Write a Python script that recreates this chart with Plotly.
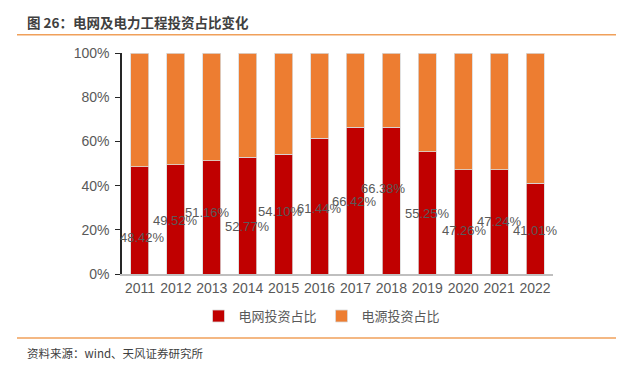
import plotly.graph_objects as go

years = ["2011", "2012", "2013", "2014", "2015", "2016", "2017", "2018", "2019", "2020", "2021", "2022"]
grid_share = [48.42, 49.52, 51.16, 52.77, 54.10, 61.44, 66.42, 66.38, 55.25, 47.26, 47.24, 41.01]
power_share = [round(100 - v, 2) for v in grid_share]
label_text = [f"{v:.2f}%" for v in grid_share]

# label placement (as in the source chart, labels were scattered)
label_y = [16.4, 24.2, 27.8, 21.7, 28.2, 29.5, 32.8, 38.5, 27.6, 19.9, 23.6, 19.9]
label_dx = [3, 0, -4, 0, -3, 0, -1, -8, 0, 1, 0, 0]

# page has an 8px body margin; lay out in reference-pixel coordinates, shifted
OFF = 8
W, H = 625 - OFF, 372 - OFF
L, R, T, B = 122 - OFF, 553 - OFF, 53.3 - OFF, 274 - OFF
pw, ph = R - L, B - T

def px(x):
    return (x - OFF - L) / pw

def py(y):
    return (B - (y - OFF)) / ph

font_cjk = "Noto Sans CJK SC, Liberation Sans, Arial, sans-serif"
font_num = "Liberation Sans, Arial, sans-serif"
gray = "#595959"

fig = go.Figure()
fig.add_bar(x=years, y=grid_share, name="电网投资占比", marker=dict(color="#C00000", line=dict(color="#d9d9d9", width=0.8)))
fig.add_bar(x=years, y=power_share, name="电源投资占比", marker=dict(color="#ED7D31", line=dict(color="#d9d9d9", width=0.8)))

annotations = []
for i, (t, ly, dx) in enumerate(zip(label_text, label_y, label_dx)):
    annotations.append(dict(x=i, y=ly, text=t, showarrow=False, xshift=dx,
                            font=dict(family=font_num, size=13, color=gray)))

annotations.append(dict(xref="paper", yref="paper", x=px(25), y=py(22.7), xanchor="left", yanchor="middle",
                        text="<b>图 26：电网及电力工程投资占比变化</b>", showarrow=False,
                        font=dict(family=font_cjk, size=13.5, color="#404040")))
annotations.append(dict(xref="paper", yref="paper", x=px(25), y=py(352.5), xanchor="left", yanchor="middle",
                        text="资料来源：wind、天风证券研究所", showarrow=False,
                        font=dict(family=font_cjk, size=11.5, color="#404040")))

shapes = [
    dict(type="line", xref="paper", yref="paper", x0=px(17), x1=px(616), y0=py(35), y1=py(35),
         line=dict(color="#F0A05A", width=1.5)),
    dict(type="line", xref="paper", yref="paper", x0=px(17), x1=px(616), y0=py(338), y1=py(338),
         line=dict(color="#F0A05A", width=1.5)),
]

fig.update_layout(
    barmode="stack",
    bargap=0.5,
    width=W, height=H,
    margin=dict(l=L, r=W - R, t=T, b=H - B, pad=0),
    paper_bgcolor="white", plot_bgcolor="white",
    showlegend=True,
    legend=dict(orientation="h", x=px(322), y=py(316), xanchor="center", yanchor="middle",
                font=dict(family=font_cjk, size=13, color=gray), itemwidth=30,
                traceorder="normal", itemclick=False),
    annotations=annotations,
    shapes=shapes,
    xaxis=dict(type="category", range=[-0.5, len(years) - 0.5], showline=True, linecolor="#bfbfbf",
               linewidth=2, ticks="", showgrid=False,
               tickfont=dict(family=font_num, size=14, color=gray)),
    yaxis=dict(range=[0, 100], dtick=20, ticksuffix="%", showline=True, linecolor="#262626", linewidth=1.5,
               ticks="outside", ticklen=5, tickcolor="#262626", showgrid=False, zeroline=False,
               tickfont=dict(family=font_num, size=14, color=gray), ticklabelstandoff=3),
)

fig.write_html("out.html")
